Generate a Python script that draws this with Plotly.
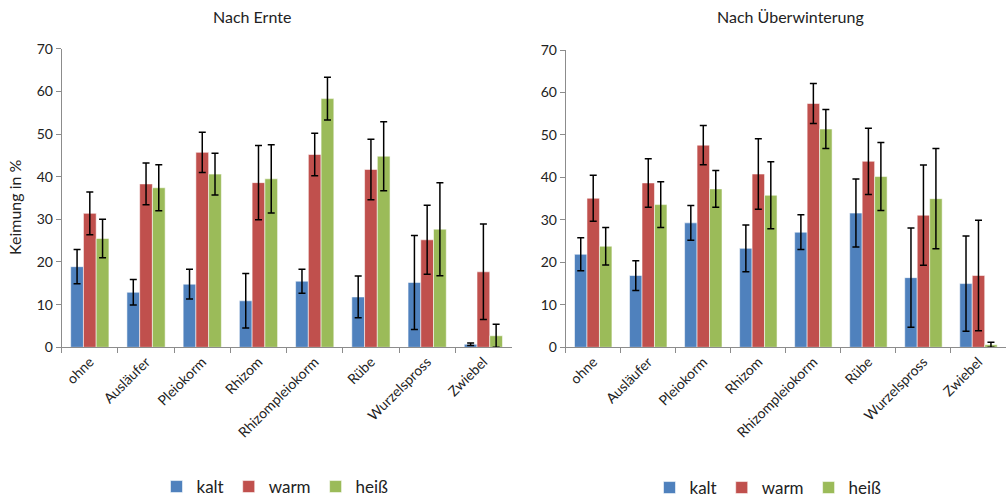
import plotly.graph_objects as go

# Categories (Speicherorgan-Typ)
categories = ["ohne", "Ausläufer", "Pleiokorm", "Rhizom", "Rhizompleiokorm",
              "Rübe", "Wurzelspross", "Zwiebel"]
series_names = ["kalt", "warm", "heiß"]

# Keimung in % nach Ernte
ernte_kalt = [18.9, 12.9, 14.8, 10.9, 15.5, 11.8, 15.2, 0.7]
ernte_warm = [31.4, 38.3, 45.7, 38.6, 45.2, 41.7, 25.2, 17.7]
ernte_heiss = [25.5, 37.4, 40.6, 39.5, 58.3, 44.8, 27.7, 2.7]
ernte_kalt_err = [4.0, 3.0, 3.5, 6.4, 2.8, 4.9, 11.0, 0.3]
ernte_warm_err = [5.0, 4.9, 4.7, 8.7, 5.0, 7.1, 8.1, 11.2]
ernte_heiss_err = [4.5, 5.4, 4.9, 8.0, 5.0, 8.1, 10.9, 2.7]

# Keimung in % nach Überwinterung
ueber_kalt = [21.9, 16.9, 29.3, 23.3, 27.1, 31.6, 16.4, 15.0]
ueber_warm = [35.1, 38.7, 47.6, 40.8, 57.4, 43.8, 31.1, 16.9]
ueber_heiss = [23.8, 33.6, 37.3, 35.8, 51.4, 40.2, 35.0, 0.6]
ueber_kalt_err = [3.9, 3.5, 4.1, 5.5, 4.1, 8.0, 11.7, 11.2]
ueber_warm_err = [5.4, 5.7, 4.6, 8.3, 4.7, 7.8, 11.8, 13.0]
ueber_heiss_err = [4.4, 5.4, 4.3, 7.9, 4.6, 8.0, 11.8, 0.6]

colors = ["#4F81BD", "#C0504D", "#9BBB59"]
FONT = "Lato"
W, H = 1006, 498

fig = go.Figure()

panels = [
    ("x", "y", "legend", [ernte_kalt, ernte_warm, ernte_heiss],
     [ernte_kalt_err, ernte_warm_err, ernte_heiss_err]),
    ("x2", "y2", "legend2", [ueber_kalt, ueber_warm, ueber_heiss],
     [ueber_kalt_err, ueber_warm_err, ueber_heiss_err]),
]

for xa, ya, leg, values, errors in panels:
    for name, col, vals, errs in zip(series_names, colors, values, errors):
        fig.add_trace(go.Bar(
            x=categories, y=vals, name=name, xaxis=xa, yaxis=ya, legend=leg,
            marker=dict(color=col, line=dict(color="rgba(255,255,255,0.55)", width=1)),
            error_y=dict(type="data", array=errs, visible=True,
                         color="#000000", thickness=1.5, width=3.5),
        ))

axis_font = dict(family=FONT, size=14, color="#222222")
xcommon = dict(type="category", showline=True, linecolor="#8C8C8C", linewidth=1,
               ticks="outside", tickson="boundaries", ticklen=5, tickcolor="#8C8C8C",
               tickangle=-45, tickfont=axis_font, showgrid=False, zeroline=False,
               fixedrange=True, automargin=False)
ycommon = dict(range=[0, 70], dtick=10, showline=True, linecolor="#8C8C8C", linewidth=1,
               ticks="outside", ticklen=5, tickcolor="#8C8C8C", tickfont=axis_font,
               showgrid=False, zeroline=False, fixedrange=True, automargin=False)

legend_common = dict(orientation="h", xanchor="center", yanchor="middle",
                     font=dict(family=FONT, size=17), itemwidth=30,
                     traceorder="normal")

fig.update_layout(
    width=W, height=H,
    margin=dict(l=0, r=0, t=0, b=0, autoexpand=False),
    paper_bgcolor="white", plot_bgcolor="white",
    barmode="group", bargap=0.32, bargroupgap=0.0,
    font=dict(family=FONT, color="#222222"),
    xaxis=dict(domain=[61.7 / W, 511.5 / W], anchor="y", **xcommon),
    yaxis=dict(domain=[1 - 347.3 / H, 1 - 48.7 / H], anchor="x", **ycommon),
    xaxis2=dict(domain=[565.7 / W, 1.0], anchor="y2", **xcommon),
    yaxis2=dict(domain=[1 - 347.3 / H, 1 - 50 / H], anchor="x2", **ycommon),
    legend=dict(x=275 / W, y=1 - 487 / H, **legend_common),
    legend2=dict(x=768 / W, y=1 - 488 / H, **legend_common),
    annotations=[
        dict(text="Nach Ernte", x=252 / W, y=1 - 17 / H, xref="paper", yref="paper",
             xanchor="center", yanchor="middle", showarrow=False,
             font=dict(family=FONT, size=16, color="#222222")),
        dict(text="Nach Überwinterung", x=790 / W, y=1 - 17 / H, xref="paper", yref="paper",
             xanchor="center", yanchor="middle", showarrow=False,
             font=dict(family=FONT, size=16, color="#222222")),
        dict(text="Keimung in %", x=14 / W, y=1 - 207 / H, xref="paper", yref="paper",
             xanchor="center", yanchor="middle", textangle=-90, showarrow=False,
             font=dict(family=FONT, size=16, color="#222222")),
    ],
)

fig.write_html("out.html")
